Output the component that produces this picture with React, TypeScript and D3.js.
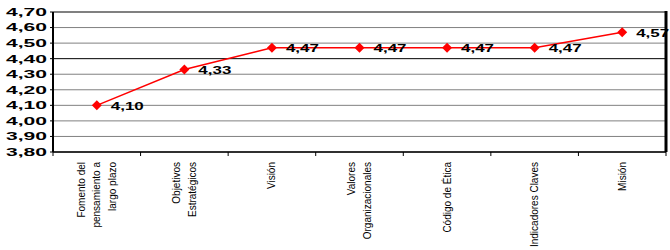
import { scaleBand, scaleLinear, line } from 'd3'

const categories = [
	['Fomento del', 'pensamiento a', 'largo plazo'],
	['Objetivos', 'Estratégicos'],
	['Visión'],
	['Valores', 'Organizacionales'],
	['Código de Ética'],
	['Indicadores Claves'],
	['Misión'],
]
const values = [4.1, 4.33, 4.47, 4.47, 4.47, 4.47, 4.57]
const yTicks = [3.8, 3.9, 4.0, 4.1, 4.2, 4.3, 4.4, 4.5, 4.6, 4.7]

const fmt = (v: number) => v.toFixed(2).replace('.', ',')

export default function App() {
	const width = 670
	const height = 250
	const left = 53
	const right = 666
	const top = 12
	const bottom = 152

	const keys = categories.map((c) => c.join(' '))
	const x = scaleBand<string>().domain(keys).range([left, right])
	const y = scaleLinear().domain([3.8, 4.7]).range([bottom, top])
	const cx = (i: number) => (x(keys[i]) ?? 0) + x.bandwidth() / 2

	const path = line<number>()
		.x((_, i) => cx(i))
		.y((d) => y(d))(values)

	const font = '"Liberation Sans", Arial, sans-serif'

	return (
		<div style={{ position: 'absolute', left: 0, top: 0 }}>
			<svg width={width} height={height} style={{ display: 'block', background: '#fff' }}>
				{yTicks.map((t) => (
					<g key={t}>
						<line
							x1={left}
							x2={right}
							y1={y(t)}
							y2={y(t)}
							stroke={Math.abs(t - 4.4) < 1e-6 ? '#000' : '#808080'}
							strokeWidth={Math.abs(t - 4.7) < 1e-6 ? 2 : 1}
						/>
						<line x1={left - 3} x2={left} y1={y(t)} y2={y(t)} stroke="#000" />
						<text
							x={47}
							y={y(t)}
							dy="0.35em"
							textAnchor="end"
							fontFamily={font}
							fontWeight="bold"
							fontSize={11}
							textLength={41}
							lengthAdjust="spacingAndGlyphs"
							fill="#000"
						>
							{fmt(t)}
						</text>
					</g>
				))}

				{keys.map((k, i) => (
					<line
						key={k}
						x1={(x(k) ?? 0) + (i === 0 ? 0 : 0)}
						x2={x(k) ?? 0}
						y1={bottom}
						y2={bottom + 4}
						stroke="#000"
					/>
				))}
				<line x1={right} x2={right} y1={bottom} y2={bottom + 4} stroke="#000" />

				<path d={path ?? ''} fill="none" stroke="#ff0000" strokeWidth={1.5} />

				{values.map((v, i) => (
					<g key={i}>
						<path
							d={`M${cx(i)},${y(v) - 5}L${cx(i) + 5},${y(v)}L${cx(i)},${y(v) + 5}L${cx(i) - 5},${y(v)}Z`}
							fill="#ff0000"
						/>
						<text
							x={cx(i) + 14}
							y={y(v) + 4.5}
							fontFamily={font}
							fontWeight="bold"
							fontSize={11}
							textLength={33}
							lengthAdjust="spacingAndGlyphs"
							fill="#000"
						>
							{fmt(v)}
						</text>
					</g>
				))}

				<line x1={left} x2={left} y1={top} y2={bottom} stroke="#000" strokeWidth={2} />
				<line x1={left} x2={right} y1={bottom} y2={bottom} stroke="#000" strokeWidth={1.5} />
				<line x1={right} x2={right} y1={top - 1} y2={bottom} stroke="#000" strokeWidth={3} />

				{categories.map((lines, i) => {
					const n = lines.length
					return (
						<g key={keys[i]} transform={`translate(${cx(i)}, 162) rotate(-90)`}>
							{lines.map((l, j) => (
								<text
									key={j}
									x={0}
									y={(j - (n - 1) / 2) * 15.5}
									dy="0.35em"
									textAnchor="end"
									fontFamily={font}
									fontSize={10}
									fill="#000"
								>
									{l}
								</text>
							))}
						</g>
					)
				})}
			</svg>
		</div>
	)
}
